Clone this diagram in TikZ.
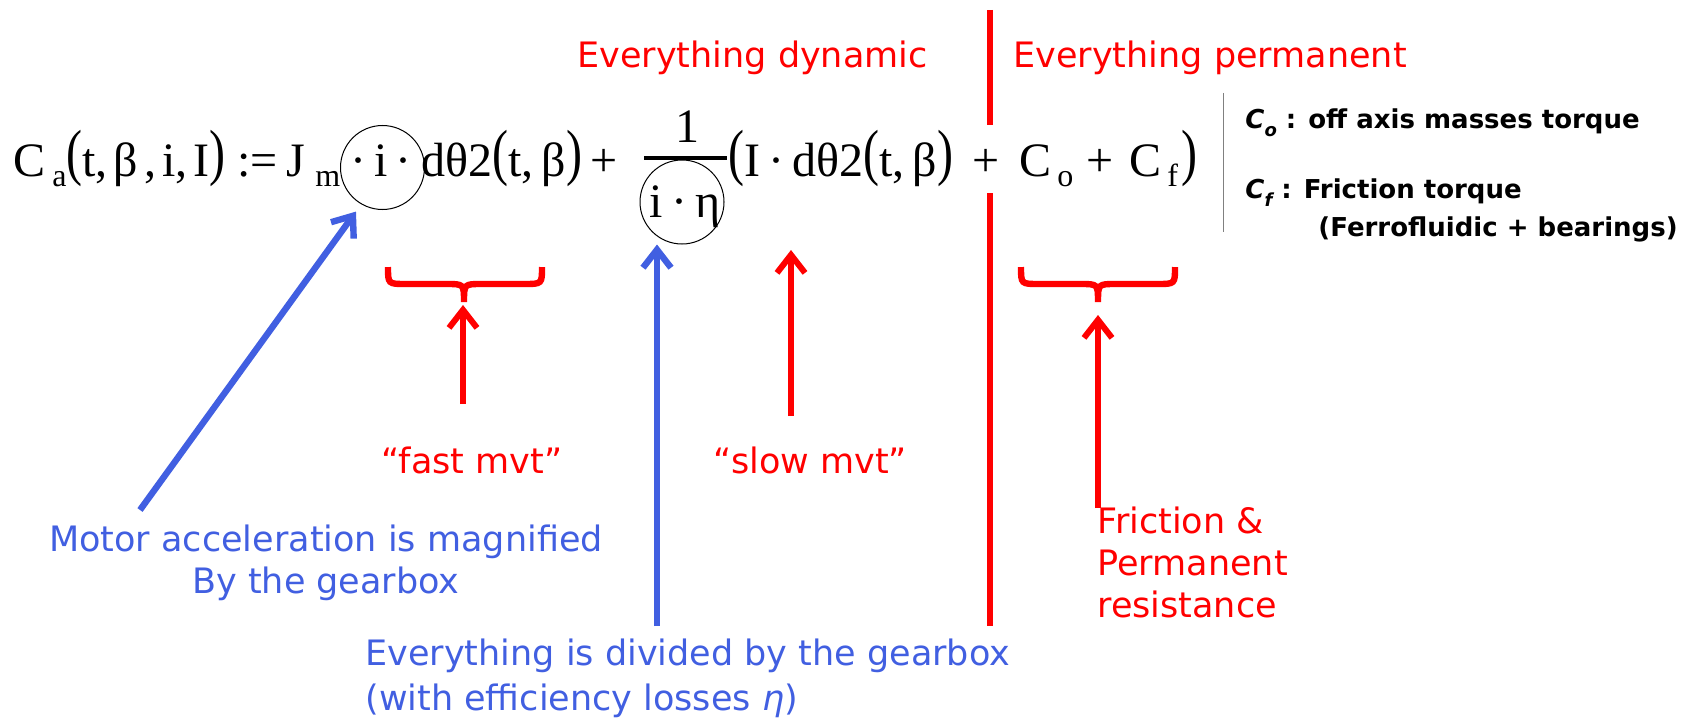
\documentclass[tikz,border=0pt]{standalone}
\usepackage{fontspec}
\usepackage{graphicx}
\setmainfont{DejaVu Sans}
\newfontfamily\eqfont{Liberation Serif}
\usetikzlibrary{arrows.meta}

\definecolor{gearblue}{RGB}{65,95,225}
\definecolor{notered}{RGB}{255,0,0}

% taller brackets, as in the worksheet
\newcommand\eqlp{\raisebox{0.06em}{\scalebox{1}[1.3]{(}}}
\newcommand\eqrp{\raisebox{0.06em}{\scalebox{1}[1.3]{)}}}

\tikzset{
  eq/.style={font=\eqfont\fontsize{24}{28}\selectfont, inner sep=0pt, anchor=base west},
  eqsub/.style={font=\eqfont\fontsize{16}{18}\selectfont, inner sep=0pt, anchor=base west},
  ring/.style={circle, draw, line width=0.5pt, minimum size=42pt, inner sep=0pt},
  redtxt/.style={font=\fontsize{17.5}{21}\selectfont, text=notered, inner sep=0pt},
  bluetxt/.style={font=\fontsize{17.5}{21}\selectfont, text=gearblue, inner sep=0pt},
  side/.style={font=\bfseries\fontsize{13}{17}\selectfont, inner sep=0pt, anchor=base west},
  redarr/.style={notered, line width=3pt},
  bluearr/.style={gearblue, line width=3.2pt},
  brc/.style={notered, line width=3.2pt},
}

\begin{document}
\begin{tikzpicture}[x=0.5pt, y=-0.5pt, >={Straight Barb[length=9pt,width=14pt]}]
    \useasboundingbox (0,0) rectangle (1700,717);

    % the torque equation
    \node[eq] (ca) at (13,176) {C};
    \node[eqsub] (casub) at (52,186) {a};
    \node[eq] (args) at (66,176) {\eqlp t,\kern3pt β\kern3pt,\kern3pt i,\kern3pt I\eqrp};
    \node[eq] (defeq) at (237,176) {:=};
    \node[eq] (jm) at (286,176) {J};
    \node[eqsub] (jmsub) at (315,186) {m};
    \node[eq, anchor=base] (ione) at (381,176) {·\,i\,·};
    \node[ring] (ringi) at (382.5,167.5) {};
    \node[eq] (dtheta) at (421,176) {dθ2\eqlp t,\kern4pt β\eqrp};
    \node[eq, anchor=base] (plusa) at (604,176) {+};
    \draw[line width=1.6pt] (644,158) -- (727,158);
    \node[eq, anchor=base] (num) at (687,142) {1};
    \node[eq, anchor=base] (den) at (685,217) {i\,·\,η};
    \node[ring] (ringeta) at (682,202) {};
    \node[eq] (perm) at (728,176) {\eqlp I\,·\,dθ2\eqlp t,\kern4pt β\eqrp};
    \node[eq, anchor=base] (plusb) at (986,176) {+};
    \node[eq] (co) at (1019,176) {C};
    \node[eqsub] (cosub) at (1057,186) {o};
    \node[eq, anchor=base] (plusc) at (1100,176) {+};
    \node[eq] (cf) at (1129,176) {C};
    \node[eqsub] (cfsub) at (1167,186) {f};
    \node[eq] (close) at (1181,176) {\eqrp};

    % side notes
    \draw[gray, line width=0.5pt] (1223,93) -- (1223,232);
    \node[side] (conote) at (1245,128) {\textit{C}\raisebox{-4pt}{\fontsize{9}{9}\selectfont\itshape o} : off axis masses torque};
    \node[side] (cfnote) at (1245,198) {\textit{C}\raisebox{-4pt}{\fontsize{9}{9}\selectfont\itshape f} : Friction torque};
    \node[side] (ferro) at (1318,236) {(Ferrofluidic + bearings)};

    % dynamic / permanent split
    \draw[notered, line width=3.3pt] (990,10) -- (990,125);
    \draw[notered, line width=3.3pt] (990,193) -- (990,626);
    \node[redtxt, anchor=base west] (dyn) at (577,68) {Everything dynamic};
    \node[redtxt, anchor=base west] (permtxt) at (1013,68) {Everything permanent};

    % braces
    \draw[brc] (388,267) .. controls (388,284) .. (406,284) -- (446,284)
        .. controls (464,284) .. (464,302) .. controls (464,284) .. (482,284)
        -- (524,284) .. controls (542,284) .. (542,267);
    \draw[brc] (1021,267) .. controls (1021,284) .. (1039,284) -- (1080,284)
        .. controls (1098,284) .. (1098,302) .. controls (1098,284) .. (1116,284)
        -- (1157,284) .. controls (1175,284) .. (1175,267);

    % labels
    \node[redtxt, anchor=base] (fast) at (472,473) {“fast mvt”};
    \node[redtxt, anchor=base] (slow) at (810,473) {“slow mvt”};
    \node[redtxt, anchor=base west, align=left] (fric) at (1097,617) {Friction \&\\Permanent\\resistance};
    \node[bluetxt, anchor=base, align=center] (acc) at (326,593) {Motor acceleration is magnified\\By the gearbox};
    \node[bluetxt, anchor=base west, align=left] (div) at (365,710) {Everything is divided by the gearbox\\[1.5pt](with efficiency losses \textit{η})};

    % arrows
    \coordinate (fasttail) at (463,404);
    \coordinate (fasttip) at (463,305);
    \coordinate (slowtail) at (791,416);
    \coordinate (slowtip) at (791,250);
    \coordinate (frictail) at (1098,508);
    \coordinate (frictip) at (1098,315);
    \coordinate (acctail) at (140,510);
    \coordinate (divtail) at (657,626);
    \draw[redarr, ->] (fasttail) -- (fasttip);
    \draw[redarr, ->] (slowtail) -- (slowtip);
    \draw[redarr, ->] (frictail) -- (frictip);
    \draw[bluearr, ->, shorten >=4.5pt] (acctail) -- (ringi.240);
    \draw[bluearr, ->] (divtail) -- (divtail |- ringeta.south);
\end{tikzpicture}
\end{document}
